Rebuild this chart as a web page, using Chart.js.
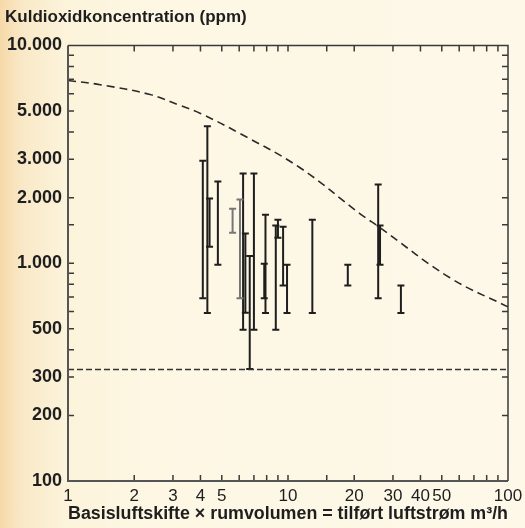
<!DOCTYPE html>
<html><head><meta charset="utf-8">
<script src="https://cdn.jsdelivr.net/npm/chart.js@4.4.0/dist/chart.umd.min.js"></script>
<style>
html,body{margin:0;padding:0;}
body{width:525px;height:528px;overflow:hidden;
background:linear-gradient(to right,#f6d9a8 0%,#f9e8c6 4%,#fcf3da 12%,#fdf7e4 30%,#fdf8e8 100%);}
#wrap{position:relative;width:525px;height:528px;}
</style></head><body>
<div id="wrap"><canvas id="c" width="525" height="528"></canvas></div>
<script>
// ---- data ----
const xTickLabels = [1, 2, 3, 4, 5, 10, 20, 30, 40, 50, 100];
const yTickLabels = [100, 200, 300, 500, 1000, 2000, 3000, 5000, 10000];

// upper dashed curve (ppm vs m3/h)
const curveX = [1, 1.4, 2.36, 3.23, 4.0, 6.05, 11.3, 21.2, 26.2, 54.5, 100];
const curveY = [6900, 6600, 5950, 5300, 4870, 3940, 2750, 1690, 1456, 857, 630];

// lower horizontal dashed line (outdoor level)
const baseX = [1, 100];
const baseY = [325, 325];

// measured ranges (error bars)
const barX    = [4.1, 4.3, 4.4, 4.8, 5.6, 6.05, 6.25, 6.4, 6.7, 7.0, 7.8, 7.9, 8.8, 9.0, 9.5, 9.9, 12.9, 18.7, 25.7, 26.2, 32.6];
const barLow  = [690, 590, 1190, 985, 1380, 690, 495, 592, 327, 495, 690, 590, 495, 1310, 790, 590, 590, 790, 690, 985, 590];
const barHigh = [2950, 4250, 1980, 2370, 1780, 1960, 2580, 1370, 1080, 2580, 995, 1670, 1490, 1585, 1470, 985, 1585, 985, 2300, 1490, 790];
const greyBars = [4, 5];

const fmt = v => String(v).replace(/\B(?=(\d{3})+(?!\d))/g, '.');

const barSets = barX.map((x, i) => {
  const col = greyBars.includes(i) ? '#777' : '#1e1e1e';
  return {
    data: [{x: x, y: barLow[i]}, {x: x, y: barHigh[i]}],
    showLine: true, borderColor: col, borderWidth: 2,
    pointStyle: 'line', pointRadius: 3.5, pointHoverRadius: 3.5,
    pointBorderColor: col, pointBorderWidth: 2, order: 2
  };
});

const framePlugin = {
  id: 'frame',
  afterDatasetsDraw(chart) {
    const ctx = chart.ctx, a = chart.chartArea;
    const xs = chart.scales.x, ys = chart.scales.y;
    ctx.save();
    ctx.strokeStyle = '#3a3a3a';
    ctx.lineWidth = 1.5;
    xs.ticks.forEach(t => {
      const p = xs.getPixelForValue(t.value);
      if (p <= a.left + 1 || p >= a.right - 1) return;
      ctx.beginPath();
      ctx.moveTo(p, a.bottom); ctx.lineTo(p, a.bottom - 6);
      ctx.moveTo(p, a.top); ctx.lineTo(p, a.top + 6);
      ctx.stroke();
    });
    ys.ticks.forEach(t => {
      const p = ys.getPixelForValue(t.value);
      if (p <= a.top + 1 || p >= a.bottom - 1) return;
      ctx.beginPath();
      ctx.moveTo(a.left, p); ctx.lineTo(a.left + 6, p);
      ctx.moveTo(a.right, p); ctx.lineTo(a.right - 6, p);
      ctx.stroke();
    });
    ctx.lineWidth = 2;
    ctx.strokeStyle = '#555';
    ctx.beginPath();
    ctx.moveTo(a.left, a.top); ctx.lineTo(a.left, a.bottom); ctx.lineTo(a.right, a.bottom);
    ctx.stroke();
    ctx.strokeStyle = '#3a3a3a';
    ctx.lineWidth = 1.5;
    ctx.beginPath();
    ctx.moveTo(a.left, a.top); ctx.lineTo(a.right, a.top); ctx.lineTo(a.right, a.bottom);
    ctx.stroke();
    ctx.restore();
  }
};

new Chart(document.getElementById('c'), {
  type: 'scatter',
  data: {
    datasets: [
      {
        data: curveX.map((x, i) => ({x: x, y: curveY[i]})),
        showLine: true, borderColor: '#2a2a2a', borderWidth: 1.6,
        borderDash: [8, 5], pointRadius: 0, tension: 0.4, order: 1
      },
      {
        data: baseX.map((x, i) => ({x: x, y: baseY[i]})),
        showLine: true, borderColor: '#333', borderWidth: 1.6,
        borderDash: [6, 3], pointRadius: 0, order: 1
      },
      ...barSets
    ]
  },
  options: {
    responsive: false, animation: false, devicePixelRatio: 1,
    layout: {padding: {left: 5, right: 17, top: 0, bottom: 0}},
    plugins: {
      legend: {display: false}, tooltip: {enabled: false},
      title: {
        display: true, align: 'start', text: 'Kuldioxidkoncentration (ppm)',
        color: '#1e1e1e', font: {family: 'Liberation Sans', size: 17, weight: 'bold'},
        padding: {top: 7, bottom: 18}
      }
    },
    scales: {
      x: {
        type: 'logarithmic', min: 1, max: 100,
        grid: {display: false, drawTicks: false}, border: {display: false},
        ticks: {
          autoSkip: false, maxRotation: 0, padding: 5, color: '#1e1e1e',
          font: {family: 'Liberation Sans', size: 17},
          callback: v => xTickLabels.includes(v) ? String(v) : ''
        },
        title: {
          display: true, color: '#1e1e1e',
          text: 'Basisluftskifte × rumvolumen = tilført luftstrøm m³/h',
          font: {family: 'Liberation Sans', size: 18, weight: 'bold'},
          padding: {top: 0, bottom: 3}
        },
        afterFit: s => { s.height = 47; s.paddingRight = 0; s.paddingLeft = 0; }
      },
      y: {
        type: 'logarithmic', min: 100, max: 10000,
        grid: {display: false, drawTicks: false}, border: {display: false},
        ticks: {
          autoSkip: false, padding: 6, color: '#1e1e1e',
          font: {family: 'Liberation Sans', size: 18, weight: 'bold'},
          callback: v => yTickLabels.includes(v) ? fmt(v) : ''
        },
        afterFit: s => { s.width = 63; }
      }
    }
  },
  plugins: [framePlugin]
});
</script>
</body></html>
